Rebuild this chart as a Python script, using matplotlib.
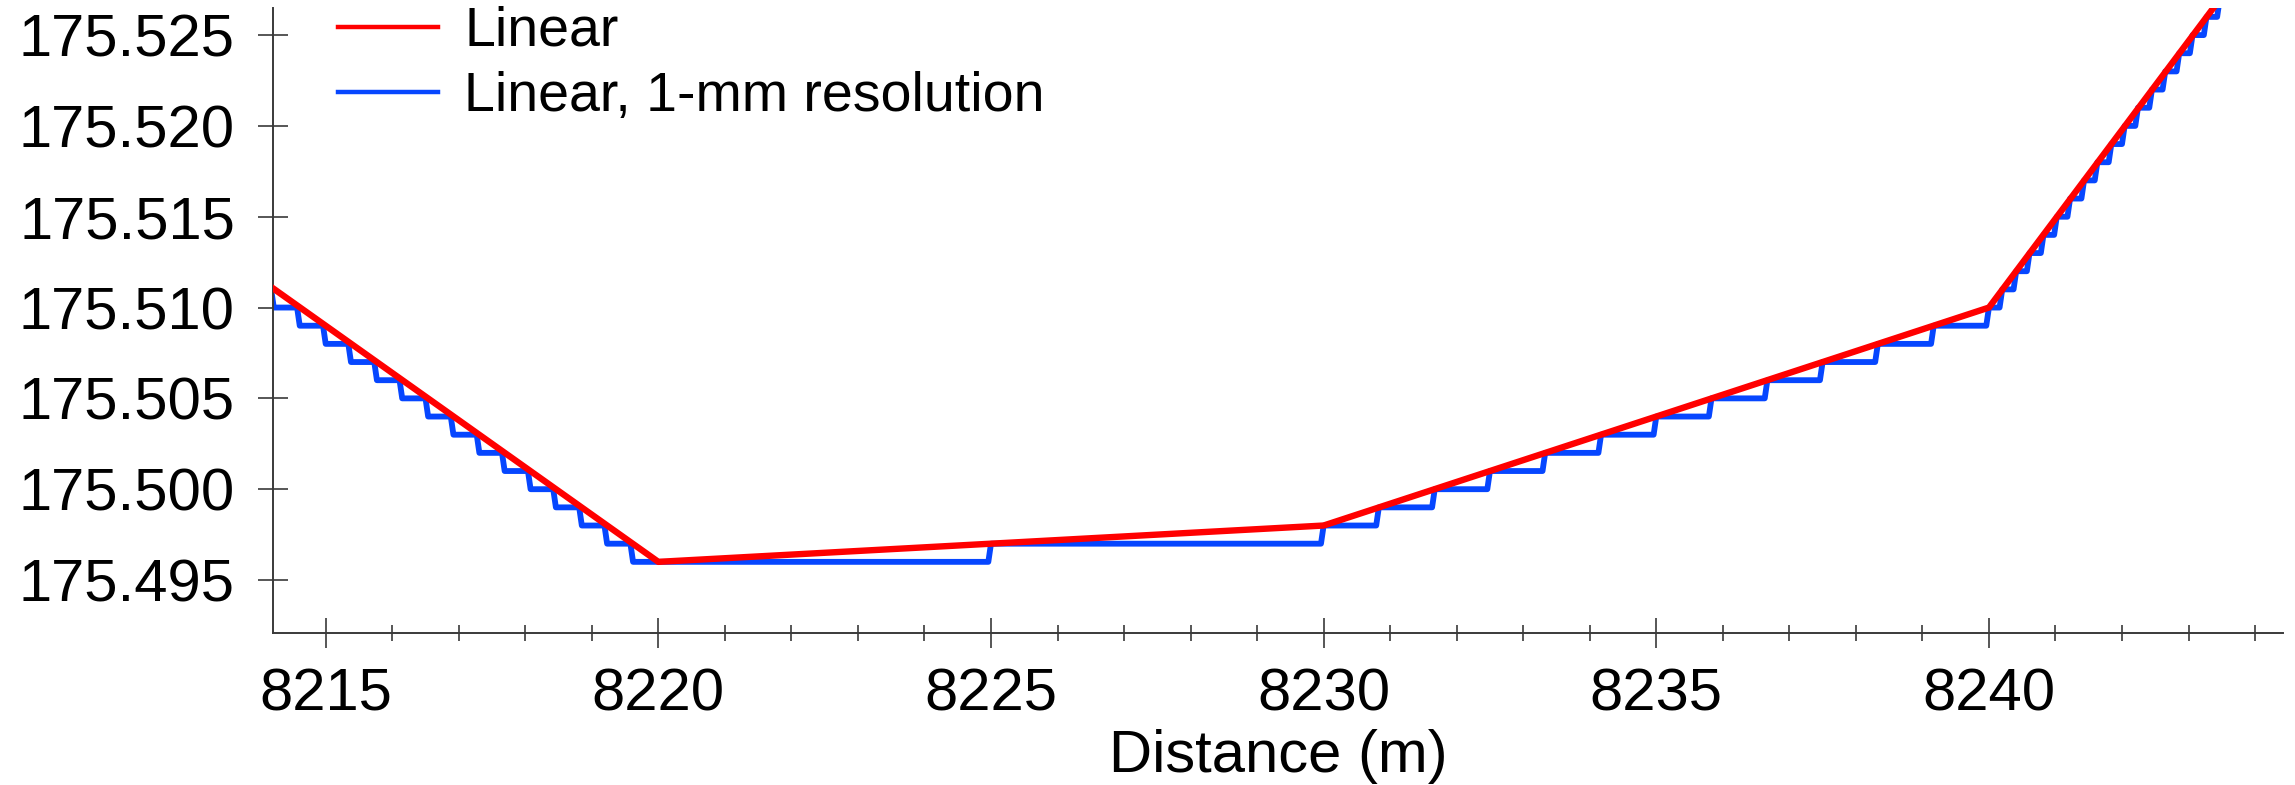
import numpy as np
import matplotlib.pyplot as plt
from matplotlib.ticker import MultipleLocator, FormatStrFormatter

plt.rcParams['font.family'] = ['Liberation Sans', 'DejaVu Sans']

# linear profile vertices (distance m, elevation m)
lin_x = [8214.0, 8220.0, 8230.0, 8240.0, 8243.6]
lin_y = [175.5116, 175.496, 175.498, 175.510, 175.5276]

# same profile stored at 1-mm resolution: level (mm above 175 m) and
# distance where each new level starts
res_mm = [511, 510, 509, 508, 507, 506, 505, 504, 503, 502, 501, 500, 499, 498, 497, 496,
          497, 498,
          499, 500, 501, 502, 503, 504, 505, 506, 507, 508, 509, 510,
          511, 512, 513, 514, 515, 516, 517, 518, 519, 520, 521, 522, 523, 524, 525, 526, 527]
res_edge = [8214.22, 8214.61, 8215.00, 8215.38, 8215.77, 8216.15, 8216.54, 8216.92,
            8217.31, 8217.69, 8218.08, 8218.46, 8218.85, 8219.23, 8219.62,
            8225.00, 8230.00,
            8230.83, 8231.67, 8232.50, 8233.33, 8234.17, 8235.00, 8235.83, 8236.67,
            8237.50, 8238.33, 8239.17, 8240.00,
            8240.20, 8240.41, 8240.61, 8240.82, 8241.02, 8241.22, 8241.43, 8241.63,
            8241.84, 8242.04, 8242.24, 8242.45, 8242.65, 8242.86, 8243.06, 8243.27, 8243.47]

res_lev = 175.0 + np.array(res_mm) / 1000.0
step = 0.04  # sampling interval -> slanted risers
bx = [lin_x[0]]
by = [res_lev[0]]
for e, lo, hi in zip(res_edge, res_lev[:-1], res_lev[1:]):
    bx += [e - step, e]
    by += [lo, hi]
bx.append(lin_x[-1])
by.append(res_lev[-1])

fig = plt.figure(figsize=(22.95, 7.85), dpi=100)
ax = fig.add_axes([273 / 2295, 1 - 632.7 / 785, 2010 / 2295, 624.7 / 785])

ax.plot(bx, by, color='#0646FF', lw=4.2, label='Linear, 1-mm resolution', zorder=2)
ax.plot(lin_x, lin_y, color='#FF0000', lw=4.6, label='Linear', zorder=3)

ax.set_xlim(8214.208, 8244.42)
ax.set_ylim(175.4921, 175.52649)

for s in ['top', 'right']:
    ax.spines[s].set_visible(False)
for s in ['left', 'bottom']:
    ax.spines[s].set_color('#3a3a3a')
    ax.spines[s].set_linewidth(1.4)

ax.xaxis.set_major_locator(MultipleLocator(5))
ax.xaxis.set_minor_locator(MultipleLocator(1))
ax.yaxis.set_major_locator(MultipleLocator(0.005))
ax.yaxis.set_major_formatter(FormatStrFormatter('%.3f'))
ax.tick_params(axis='y', direction='inout', length=20.9, width=1.2, color='#3a3a3a',
               pad=17, labelsize=43)
ax.tick_params(axis='x', which='major', direction='inout', length=21.6, width=1.2,
               color='#3a3a3a', pad=14, labelsize=43)
ax.tick_params(axis='x', which='minor', direction='inout', length=11.5, width=1.2,
               color='#3a3a3a')

ax.set_xlabel('Distance (m)', fontsize=43, labelpad=5)

h, l = ax.get_legend_handles_labels()
leg = ax.legend(h[::-1], l[::-1], loc='upper left', bbox_to_anchor=(338 / 2295, 1 - 6 / 785),
                bbox_transform=fig.transFigure, frameon=False, fontsize=40,
                handlelength=1.8, handletextpad=0.47, labelspacing=0.235,
                borderpad=0, borderaxespad=0)
for line in leg.get_lines():
    line.set_linewidth(3.2)

fig.savefig('out.png', dpi=100)
